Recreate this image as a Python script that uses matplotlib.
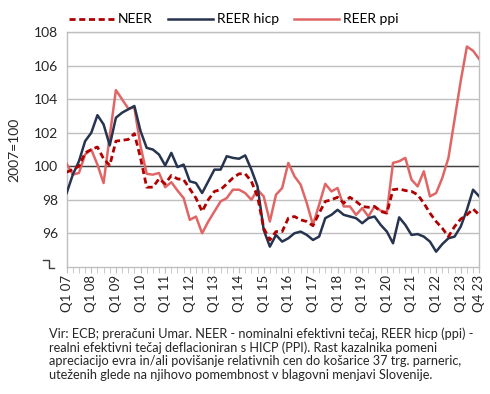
import numpy as np
import matplotlib
matplotlib.use("Agg")
import matplotlib.pyplot as plt
from matplotlib.lines import Line2D

# quarters Q1 2007 .. Q4 2023
years = list(range(2007, 2024))
quarters = [f"Q{q} {str(y)[2:]}" for y in years for q in range(1, 5)]

neer = [99.65, 99.8, 100.0, 100.8, 101.0, 101.15, 100.45, 100.05,
        101.5, 101.55, 101.6, 101.95, 100.5, 98.75, 98.75, 99.25,
        98.95, 99.45, 99.25, 99.2, 98.65, 98.1, 97.3, 98.0,
        98.5, 98.6, 98.95, 99.3, 99.55, 99.55, 99.1, 98.2,
        96.3, 95.6, 96.1, 96.1, 96.9, 97.0, 96.8, 96.7,
        96.45, 97.2, 97.9, 98.0, 98.15, 97.8, 98.15, 97.9,
        97.6, 97.55, 97.6, 97.3, 97.2, 98.6, 98.65, 98.55,
        98.5, 98.3, 97.8, 97.2, 96.7, 96.3, 95.8, 96.4,
        96.85, 97.1, 97.45, 97.1]

reer_hicp = [98.4, 99.5, 100.3, 101.5, 102.0, 103.05, 102.5, 101.25,
             102.9, 103.2, 103.4, 103.6, 102.1, 101.1, 101.0, 100.7,
             100.05, 100.8, 99.95, 100.1, 99.1, 99.0, 98.4, 99.1,
             99.8, 99.8, 100.6, 100.5, 100.45, 100.65, 99.8, 98.8,
             96.2, 95.2, 95.9, 95.5, 95.7, 96.0, 96.1, 95.9,
             95.6, 95.8, 96.9, 97.1, 97.4, 97.1, 97.0, 96.9,
             96.6, 96.9, 97.0, 96.5, 96.1, 95.4, 96.95, 96.5,
             95.9, 95.95, 95.8, 95.5, 94.9, 95.35, 95.7, 95.8,
             96.4, 97.4, 98.6, 98.2]

reer_ppi = [100.15, 99.5, 99.6, 100.7, 101.0, 100.1, 99.0, 101.8,
            104.55, 104.0, 103.45, 103.5, 101.2, 99.55, 99.5, 99.6,
            98.75, 99.05, 98.55, 98.1, 96.8, 97.0, 96.0, 96.7,
            97.3, 97.9, 98.1, 98.6, 98.6, 98.4, 98.0, 98.6,
            98.2, 96.7, 98.3, 98.7, 100.2, 99.4, 98.9, 97.8,
            96.5, 97.7, 98.95, 98.5, 98.7, 97.6, 97.6, 97.1,
            97.5, 97.0, 97.6, 97.35, 97.25, 100.2, 100.3, 100.5,
            99.2, 98.8, 99.7, 98.2, 98.4, 99.3, 100.5, 102.8,
            105.1, 107.15, 106.9, 106.4]

y_ticks = [96, 98, 100, 102, 104, 106, 108]

note = ("Vir: ECB; preračuni Umar. NEER - nominalni efektivni tečaj, REER hicp (ppi) -\n"
        "realni efektivni tečaj deflacioniran s HICP (PPI). Rast kazalnika pomeni\n"
        "apreciacijo evra in/ali povišanje relativnih cen do košarice 37 trg. parneric,\n"
        "uteženih glede na njihovo pomembnost v blagovni menjavi Slovenije.")

plt.rcParams['font.family'] = ['Lato', 'DejaVu Sans']

fig = plt.figure(figsize=(4.9, 3.94), dpi=100)
ax = fig.add_axes([0.136, 0.323, 0.842, 0.595])

x = np.arange(len(quarters))
grey = "#bfbfbf"

ax.plot(x, reer_ppi, color="#e06666", lw=1.8, label="REER ppi", zorder=3)
ax.plot(x, reer_hicp, color="#26344f", lw=1.8, label="REER hicp", zorder=4)
ax.plot(x, neer, color="#b00000", lw=2.0, ls=(0, (2.2, 1.3)), label="NEER", zorder=5)
ax.axhline(100, color="#404040", lw=1.0, zorder=2)

ax.set_xlim(0, len(quarters) - 1)
ax.set_ylim(94, 108)
ax.set_yticks(y_ticks)
ax.set_yticklabels([str(v) for v in y_ticks], fontsize=10, color="#262626")
ax.yaxis.grid(True, color=grey, lw=1.0)
ax.set_axisbelow(True)
ax.tick_params(axis="y", length=0, pad=6)

major = [i for i, q in enumerate(quarters) if q.startswith("Q1")] + [len(quarters) - 1]
ax.set_xticks(major)
ax.set_xticklabels([quarters[i] for i in major], rotation=90, fontsize=9.5, color="#262626")
ax.set_xticks(x, minor=True)
ax.tick_params(axis="x", which="both", length=4, color=grey, pad=2)

for s in ax.spines.values():
    s.set_color(grey)
    s.set_linewidth(1.0)

ax.set_ylabel("2007=100", fontsize=10, color="#262626", labelpad=10)

# axis break mark
fig.add_artist(Line2D([43 / 490, 49 / 490, 49 / 490, 54 / 490],
                      [1 - 260 / 394, 1 - 260 / 394, 1 - 268 / 394, 1 - 268 / 394],
                      color="#404040", lw=1.0))

handles, labels = ax.get_legend_handles_labels()
order = [2, 1, 0]
ax.legend([handles[i] for i in order], [labels[i] for i in order],
          loc="lower left", bbox_to_anchor=(-0.01, 1.0), ncol=3, frameon=False,
          fontsize=10, handlelength=3.2, columnspacing=1.1, handletextpad=0.3,
          borderaxespad=0.1)

fig.text(49 / 490, 1 - 327 / 394, note, fontsize=9.2, color="#262626",
         va="top", ha="left", linespacing=1.15)

fig.savefig("out.png", dpi=100)
